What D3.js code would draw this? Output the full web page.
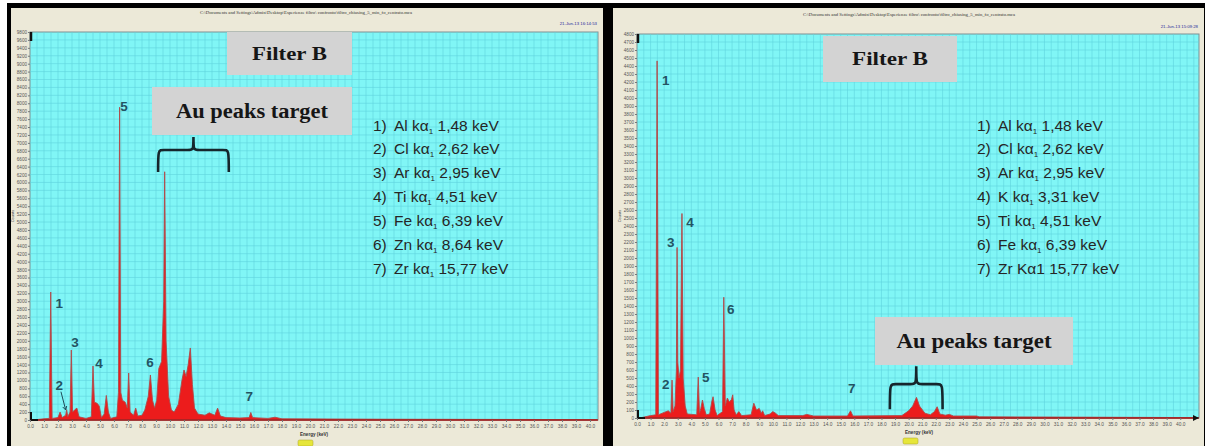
<!DOCTYPE html>
<html><head><meta charset="utf-8">
<script src="https://cdn.jsdelivr.net/npm/d3@7"></script>
<style>body{margin:0;background:#fff}svg{display:block}</style>
</head><body>
<svg id="c" width="1205" height="446"></svg>
<script>
// ---------- DATA ----------
// Left spectrum (Filter B, Au target, panel 1): energy keV / counts
const leftEnergy = [0.2,1.0,1.38,1.48,1.58,2.0,2.15,2.3,2.55,2.62,2.7,2.86,2.95,3.04,3.2,3.35,3.5,4.0,4.38,4.5,4.6,4.8,4.95,5.1,5.3,5.45,5.6,5.75,6.2,6.32,6.4,6.48,6.6,6.8,6.95,7.05,7.15,7.4,7.55,7.7,8.0,8.2,8.45,8.6,8.75,8.9,9.05,9.2,9.4,9.55,9.62,9.72,9.9,10.1,10.3,10.6,10.85,11.0,11.15,11.3,11.45,11.6,11.75,12.0,12.5,12.8,13.0,13.2,13.4,13.6,14.0,15.0,15.65,15.77,15.9,17.0,17.5,18.0,25.0,40.5];
const leftCounts = [0,30,40,3233,40,60,200,60,120,260,80,200,1768,200,260,300,80,40,80,1364,450,420,350,60,150,620,200,40,80,700,7900,700,500,450,300,1187,200,120,300,100,120,250,600,1137,500,300,500,1300,1480,3000,6270,2000,600,250,200,400,1000,1263,1100,1400,1819,900,300,150,120,180,150,120,300,100,60,50,60,190,60,40,70,30,20,10];

// Right spectrum (Filter B, panel 2)
const rightEnergy = [0.2,1.0,1.38,1.48,1.58,2.0,2.3,2.5,2.58,2.66,2.8,2.9,2.95,3.0,3.1,3.2,3.31,3.4,3.55,3.7,4.4,4.51,4.6,4.7,4.82,4.95,5.1,5.35,5.5,5.6,5.75,5.9,6.3,6.39,6.5,6.65,6.8,6.95,7.05,7.15,7.3,7.5,7.7,8.4,8.6,8.8,9.0,9.15,9.25,9.4,9.8,10.0,10.2,10.4,12.2,12.5,13.0,15.5,15.72,15.9,19.5,20.0,20.3,20.58,20.8,21.2,21.6,21.9,22.1,22.3,22.7,23.0,23.3,25.0,25.2,41.3];
const rightCounts = [0,30,40,4464,40,70,90,60,474,80,150,600,2132,700,500,600,2556,500,150,50,40,511,60,120,225,120,40,50,200,266,100,30,80,1509,150,250,200,230,290,100,40,80,30,40,185,100,120,60,90,30,50,80,60,30,30,45,25,25,90,25,30,90,150,258,150,60,40,80,141,50,35,45,25,25,15,5];

// Peak number labels, anchored in (keV, counts)
const leftPeakNames = ["1","2","3","4","5","6","7"];
const leftPeakKeV = [2.09,2.09,3.21,4.93,6.71,8.57,15.66];
const leftPeakCnt = [2955,884,1945,1415,7906,1440,581];
const rightPeakNames = ["1","2","3","4","5","6","7"];
const rightPeakKeV = [2.12,2.12,2.49,3.90,5.07,6.90,15.81];
const rightPeakCnt = [4215,424,2195,2444,511,1359,374];

// Legends
const leftLegendEl = ["Al","Cl","Ar","Ti","Fe","Zn","Zr"];
const leftLegendKeV = ["1,48","2,62","2,95","4,51","6,39","8,64","15,77"];
const rightLegendEl = ["Al","Cl","Ar","K","Ti","Fe","Zr"];
const rightLegendKeV = ["1,48","2,62","2,95","3,31","4,51","6,39","15,77"];

// Axes
const leftYMax = 9800, leftYStep = 200;
const rightYMax = 4800, rightYStep = 100;
const xTickValues = d3.range(0, 41, 1);

// ---------- DRAW ----------
const svg = d3.select("#c");
svg.append("rect").attr("width",1205).attr("height",446).attr("fill","#ffffff");
// frames
svg.append("rect").attr("x",7).attr("y",3).attr("width",1198).attr("height",443).attr("fill","#000");
svg.append("rect").attr("x",11).attr("y",8).attr("width",592).attr("height",438).attr("fill","#ece9d8");
svg.append("rect").attr("x",613).attr("y",8).attr("width",591).attr("height",438).attr("fill","#ece9d8");

function drawPanel(o){
  const g = svg.append("g");
  const x = d3.scaleLinear().domain([0,o.xMax]).range([o.x0,o.x1]);
  const y = d3.scaleLinear().domain([0,o.yMax]).range([o.y1,o.y0]);
  // plot bg
  g.append("rect").attr("x",o.x0).attr("y",o.y0).attr("width",o.x1-o.x0).attr("height",o.y1-o.y0)
    .attr("fill","#80f6f6").attr("stroke","#7d8f92").attr("stroke-width",1);
  // grid
  const grid = g.append("g").attr("stroke","#5fd3dd").attr("stroke-width",0.6);
  d3.range(0.5,o.xMax,0.5).forEach(v=>grid.append("line").attr("x1",x(v)).attr("x2",x(v)).attr("y1",o.y0).attr("y2",o.y1));
  d3.range(o.yStep,o.yMax,o.yStep).forEach(v=>grid.append("line").attr("y1",y(v)).attr("y2",y(v)).attr("x1",o.x0).attr("x2",o.x1));
  // spectrum
  const data = o.energy.map((e,i)=>({e,c:o.counts[i]}));
  g.append("path").datum(data)
    .attr("d",d3.area().x(d=>x(d.e)).y0(y(0)).y1(d=>y(d.c)))
    .attr("fill","#ec1c1c").attr("stroke","#b04a4a").attr("stroke-width",0.9);
  g.append("line").attr("x1",o.x0).attr("x2",o.x1).attr("y1",y(0)).attr("y2",y(0))
    .attr("stroke","#a02020").attr("stroke-width",1.5);
  // corner marks
  g.append("path").attr("d",`M${o.x0+1},${o.y0}V${o.y0+9}`).attr("stroke","#111").attr("stroke-width",2.5);
  g.append("path").attr("d",`M${o.x0+1},${o.y1-8}V${o.y1}H${o.x0+8}`).attr("stroke","#111").attr("stroke-width",2).attr("fill","none");
  // axes
  const ya = g.append("g").attr("transform",`translate(${o.x0},0)`)
    .call(d3.axisLeft(y).tickValues(d3.range(0,o.yMax+1,o.yStep)).tickSize(2).tickPadding(1).tickFormat(d3.format("d")));
  ya.select(".domain").remove();
  ya.selectAll("text").attr("font-size",4.6).attr("fill","#555").attr("font-family","Liberation Sans");
  ya.selectAll("line").attr("stroke","#777");
  const xa = g.append("g").attr("transform",`translate(0,${o.y1})`)
    .call(d3.axisBottom(x).tickValues(xTickValues).tickSize(2).tickPadding(3).tickFormat(d3.format(".1f")));
  xa.select(".domain").remove();
  xa.selectAll("text").attr("font-size",4.8).attr("fill","#555").attr("font-family","Liberation Sans");
  xa.selectAll("line").attr("stroke","#777");
  // axis titles
  g.append("text").attr("transform",`translate(${o.x0-16},${(o.y0+o.y1)/2-10}) rotate(-90)`).attr("text-anchor","middle")
    .attr("font-size",4).attr("fill","#444").attr("font-family","Liberation Sans").text("Counts");
  g.append("text").attr("x",o.energyLabelX).attr("y",o.y1+16).attr("font-size",4.6).attr("font-weight","bold")
    .attr("fill","#333").attr("font-family","Liberation Sans").text("Energy (keV)");
  g.append("rect").attr("x",o.energyLabelX-2).attr("y",o.y1+20).attr("width",15).attr("height",6).attr("rx",1.5)
    .attr("fill","#e6e63a").attr("stroke","#aaa22a").attr("stroke-width",0.5);
  // header texts
  g.append("text").attr("x",o.titleX).attr("y",o.titleY).attr("text-anchor","middle").attr("font-size",4.3)
    .attr("fill","#333").attr("font-family","Liberation Serif").attr("textLength",212).attr("lengthAdjust","spacingAndGlyphs")
    .text("C:\\Documents and Settings\\Admin\\Desktop\\Esperienze filtro\\ confronto\\filtro_chiusing_5_min_fo_centrato.mca");
  g.append("text").attr("x",o.x1-1).attr("y",o.dateY).attr("text-anchor","end").attr("font-size",4.3)
    .attr("fill","#27279a").attr("font-family","Liberation Sans").text(o.date);
  // peak labels
  o.peakNames.forEach((n,i)=>{
    g.append("text").attr("x",x(o.peakKeV[i])).attr("y",y(o.peakCnt[i])).attr("text-anchor","middle")
      .attr("dominant-baseline","central").attr("font-size",13.5).attr("font-weight","bold").attr("fill","#235463")
      .attr("font-family","Liberation Sans").text(n);
  });
  // legend
  o.legendEl.forEach((el,i)=>{
    const by = o.legendY + i*23.9;
    g.append("text").attr("x",o.legendX).attr("y",by).attr("font-size",15.5).attr("fill","#262626")
      .attr("font-family","Liberation Sans").text((i+1)+")");
    const t = g.append("text").attr("x",o.legendX+21).attr("y",by).attr("font-size",15.5).attr("fill","#262626")
      .attr("font-family","Liberation Sans");
    if(o.noSubLast && i===o.legendEl.length-1){
      t.text(`${el} Kα1 ${o.legendKeV[i]} keV`);
    } else {
      t.append("tspan").text(`${el} kα`);
      t.append("tspan").attr("font-size",8).attr("dy",3).text("1");
      t.append("tspan").attr("dy",-3).text(` ${o.legendKeV[i]} keV`);
    }
  });
  // boxes
  o.boxes.forEach(b=>{
    g.append("rect").attr("x",b.x).attr("y",b.y).attr("width",b.w).attr("height",b.h).attr("fill","#d3d3d3");
    g.append("text").attr("x",b.x+b.w/2).attr("y",b.y+b.h/2+b.fs*0.33).attr("text-anchor","middle")
      .attr("font-size",b.fs).attr("font-weight","bold").attr("fill","#161616").attr("font-family","Liberation Serif")
      .attr("textLength",b.tl).attr("lengthAdjust","spacingAndGlyphs").text(b.text);
  });
  // brace
  const br = o.brace;
  const xl=x(br.k0), xr=x(br.k1), xm=(xl+xr)/2, yb=y(br.cBar), yt=y(br.cTip), ye=y(br.cEnd), r=6;
  g.append("path").attr("d",
    `M${xl},${ye} C${xl},${yb} ${xl},${yb} ${xl+r},${yb} L${xm-r},${yb} C${xm},${yb} ${xm},${yb} ${xm},${yt} C${xm},${yb} ${xm},${yb} ${xm+r},${yb} L${xr-r},${yb} C${xr},${yb} ${xr},${yb} ${xr},${ye}`)
    .attr("fill","none").attr("stroke","#16262c").attr("stroke-width",2.6);
  return {x,y,g};
}

const L = drawPanel({x0:30,x1:598,y0:32,y1:420,xMax:40.57,yMax:leftYMax,yStep:leftYStep,
  energy:leftEnergy,counts:leftCounts,peakNames:leftPeakNames,peakKeV:leftPeakKeV,peakCnt:leftPeakCnt,
  legendEl:leftLegendEl,legendKeV:leftLegendKeV,legendX:373,legendY:130.5,noSubLast:false,
  titleX:306,titleY:14,dateY:25,date:"21-Jun-13 16:14:53",energyLabelX:300,
  boxes:[{x:227,y:32,w:125,h:43,text:"Filter B",fs:19,tl:75},{x:152,y:87,w:200,h:48,text:"Au peaks target",fs:20,tl:152}],
  brace:{k0:9.15,k1:14.2,cBar:6820,cTip:7149,cEnd:6265}});
// arrow for label 2 (left)
L.g.append("line").attr("x1",L.x(2.21)).attr("y1",L.y(715)).attr("x2",L.x(2.55)).attr("y2",L.y(253))
  .attr("stroke","#1f4b58").attr("stroke-width",1);
L.g.append("path").attr("d",`M${L.x(2.55)},${L.y(253)} l-3,-3 M${L.x(2.55)},${L.y(253)} l1,-4`).attr("stroke","#1f4b58").attr("stroke-width",1);

const R = drawPanel({x0:637,x1:1199,y0:34,y1:418,xMax:41.38,yMax:rightYMax,yStep:rightYStep,
  energy:rightEnergy,counts:rightCounts,peakNames:rightPeakNames,peakKeV:rightPeakKeV,peakCnt:rightPeakCnt,
  legendEl:rightLegendEl,legendKeV:rightLegendKeV,legendX:977,legendY:130.5,noSubLast:true,
  titleX:909,titleY:16,dateY:28,date:"21-Jun-13 15:09:28",energyLabelX:905,
  boxes:[{x:823,y:36,w:134,h:46,text:"Filter B",fs:19,tl:76},{x:875,y:317,w:198,h:48,text:"Au peaks target",fs:20,tl:155}],
  brace:{k0:18.62,k1:22.5,cBar:424,cTip:648,cEnd:110}});
// arrow at right end of x axis
R.g.append("path").attr("d",`M${R.x(41.38)-6},${R.y(0)-3} L${R.x(41.38)},${R.y(0)} L${R.x(41.38)-6},${R.y(0)+3}Z`).attr("fill","#111");
</script>
</body></html>
